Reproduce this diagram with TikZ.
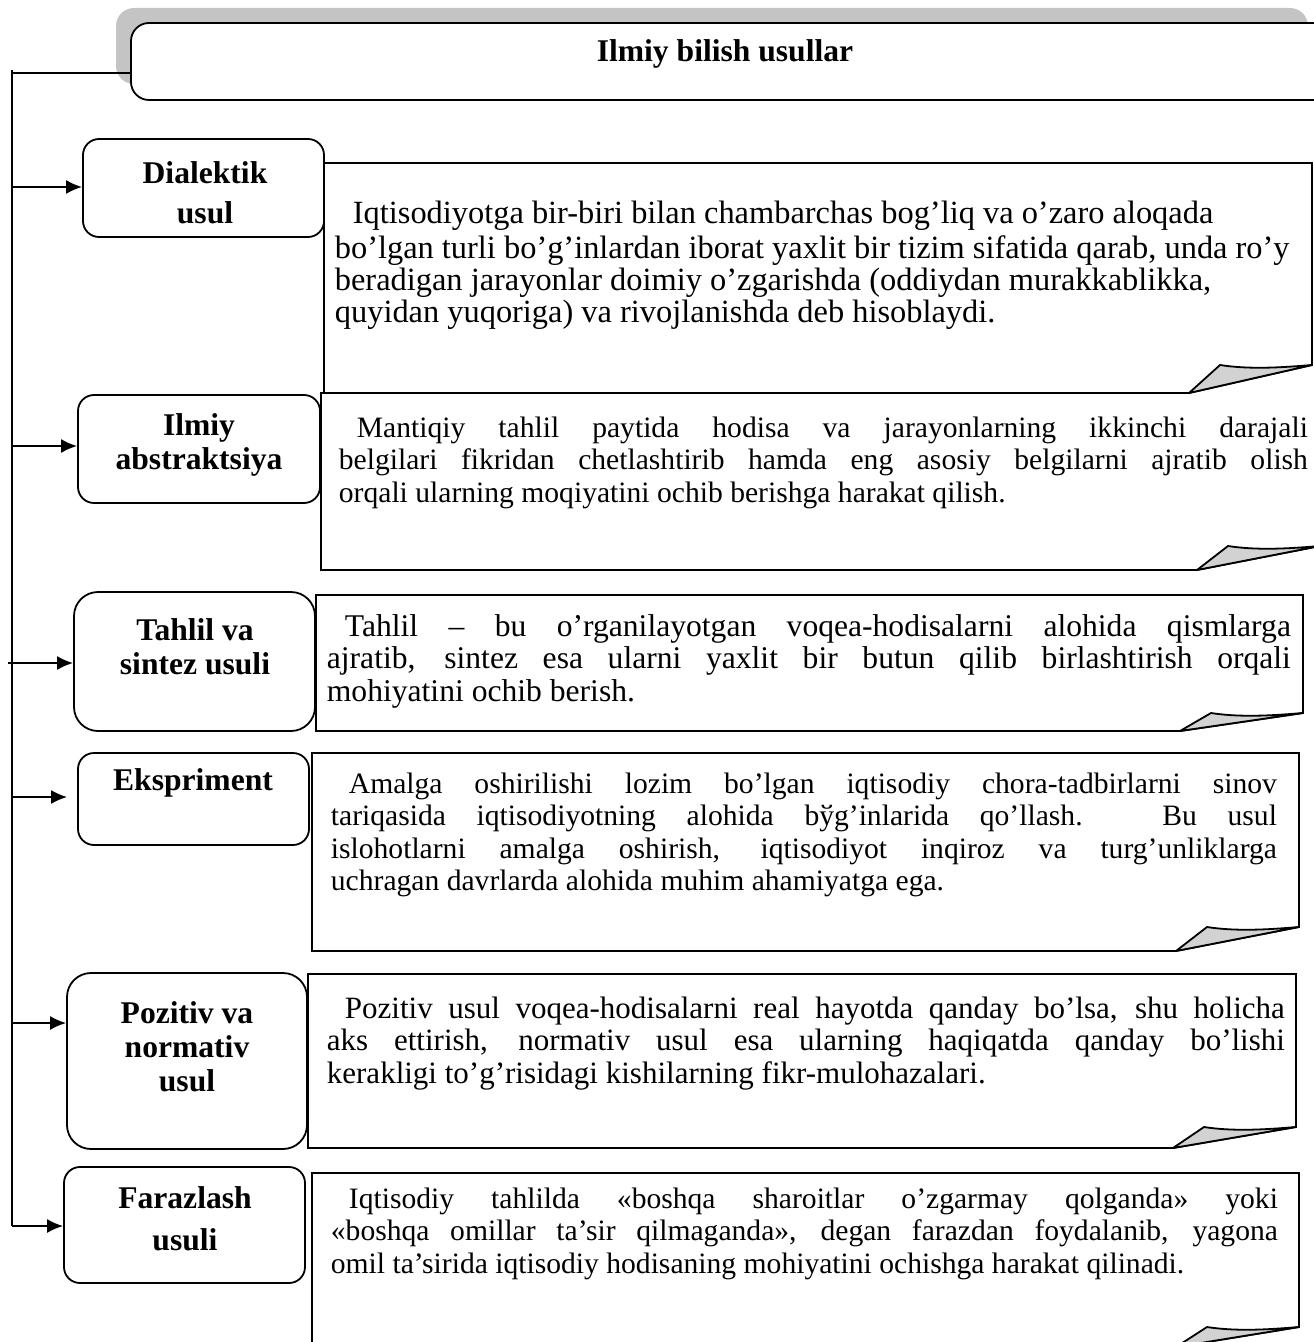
\documentclass[tikz,border=0pt]{standalone}
\usepackage{fontspec}
\setmainfont{Liberation Serif}
\usetikzlibrary{arrows.meta,calc}
\definecolor{shadowgray}{HTML}{C4C4C4}
\definecolor{flapgray}{HTML}{D2D2D2}
\newcommand\labfont{\fontsize{15.8}{17}\selectfont\bfseries}
\newcommand\jrow[1]{\hbox to\hsize{#1}}
\newcommand\lrow[1]{\hbox{#1}}
\newcommand\ind{\hskip 9pt}
% width, font size, content
\newcommand\bodyblock[3]{\vbox{\hsize=#1\fontsize{#2}{16.2}\selectfont #3}}
% x1,y1,x2,y2,foldheight
\newcommand\notebox[5]{%
  \draw[frame] (#1,#2) -- (#3,#2) -- (#3,#4-#5) -- (#3-123,#4) -- (#1,#4) -- cycle;
  \draw[flap] (#3-123,#4) -- (#3-92,#4-#5) .. controls (#3-60,#4-#5+5) and (#3-25,#4-#5+2) .. (#3,#4-#5) -- cycle;
}
\begin{document}
\begin{tikzpicture}[x=0.5pt,y=-0.5pt, line width=0.9pt,
  lbox/.style={draw, fill=white, rounded corners=8pt, inner sep=0pt},
  labtext/.style={font=\labfont, align=center, inner sep=0pt},
  bodytext/.style={anchor=north west, inner sep=0pt},
  frame/.style={draw, fill=white, line join=miter},
  flap/.style={draw, fill=flapgray, line join=round},
  arr/.style={-{Latex[length=8pt,width=7pt]}}]
\useasboundingbox (0,0) rectangle (1313,1342);

% ---- top box ----
\fill[shadowgray, rounded corners=9pt] (116,8) rectangle (1308,84);
\node[draw, fill=white, rounded corners=9pt, inner sep=0pt,
      minimum width=604.5pt, minimum height=38.5pt] (top) at (735.5,61.5) {};
\node[labtext] (title) at (725,54) {Ilmiy bilish usullar};

% ---- trunk ----
\coordinate (trunktop) at (12,70);
\coordinate (tt) at (12,73);
\coordinate (t1) at (12,187);
\coordinate (t2) at (12,446);
\coordinate (t3) at (8,663);
\coordinate (t4) at (12,797);
\coordinate (t5) at (12,1023);
\coordinate (t6) at (12,1226);
\draw (trunktop) -- (t6);
\draw (tt) -- (tt -| top.west);

% ---- right note boxes ----
\draw[fill=white] (1189,393) -- (321,393) -- (321,570) -- (1197,570) -- (1320,546) -- (1320,393);
\draw[flap] (1197,570) -- (1228,546) .. controls (1260,551) and (1295,548) .. (1320,546) -- cycle;
\notebox{324}{163}{1312}{393}{28}
\notebox{316}{595}{1303}{731}{18}
\notebox{312}{753}{1299}{951}{24}
\notebox{308}{974}{1296}{1148}{21}
\notebox{312}{1173}{1299}{1347}{20}

\node[bodytext] (r1t) at (334,200) {\bodyblock{480pt}{16.2}{%
\lrow{\strut\ind Iqtisodiyotga bir-biri bilan chambarchas bog’liq va o’zaro aloqada}
\lrow{bo’lgan turli bo’g’inlardan iborat yaxlit bir tizim sifatida qarab, unda ro’y}
\lrow{beradigan jarayonlar doimiy o’zgarishda (oddiydan murakkablikka,}
\lrow{quyidan yuqoriga) va rivojlanishda deb hisoblaydi.}}};

\node[bodytext] (r2t) at (338,414) {\bodyblock{484.5pt}{14.8}{%
\jrow{\strut\ind Mantiqiy tahlil paytida hodisa va jarayonlarning ikkinchi darajali}
\jrow{belgilari fikridan chetlashtirib hamda eng asosiy belgilarni ajratib olish}
\lrow{orqali ularning moqiyatini ochib berishga harakat qilish.}}};

\node[bodytext] (r3t) at (326,613) {\bodyblock{482pt}{15.8}{%
\jrow{\strut\ind Tahlil – bu o’rganilayotgan voqea-hodisalarni alohida qismlarga}
\jrow{ajratib, sintez esa ularni yaxlit bir butun qilib birlashtirish orqali}
\lrow{mohiyatini ochib berish.}}};

\node[bodytext] (r4t) at (330,770) {\bodyblock{473pt}{14.8}{%
\jrow{\strut\ind Amalga oshirilishi lozim bo’lgan iqtisodiy chora-tadbirlarni sinov}
\jrow{tariqasida iqtisodiyotning alohida bўg’inlarida qo’llash. Bu usul}
\jrow{islohotlarni amalga oshirish, iqtisodiyot inqiroz va turg’unliklarga}
\lrow{uchragan davrlarda alohida muhim ahamiyatga ega.}}};

\node[bodytext] (r5t) at (326,995) {\bodyblock{479pt}{15.5}{%
\jrow{\strut\ind Pozitiv usul voqea-hodisalarni real hayotda qanday bo’lsa, shu holicha}
\jrow{aks ettirish, normativ usul esa ularning haqiqatda qanday bo’lishi}
\lrow{kerakligi to’g’risidagi kishilarning fikr-mulohazalari.}}};

\node[bodytext] (r6t) at (330,1185) {\bodyblock{473.5pt}{14.8}{%
\jrow{\strut\ind Iqtisodiy tahlilda «boshqa sharoitlar o’zgarmay qolganda» yoki}
\jrow{«boshqa omillar ta’sir qilmaganda», degan farazdan foydalanib, yagona}
\lrow{omil ta’sirida iqtisodiy hodisaning mohiyatini ochishga harakat qilinadi.}}};

% ---- left boxes ----
\node[lbox, minimum width=120.5pt, minimum height=49pt] (L1) at (203.5,188) {};
\node[lbox, minimum width=121pt, minimum height=54pt] (L2) at (199,449) {};
\node[lbox, rounded corners=12pt, minimum width=120.5pt, minimum height=69.5pt] (L3) at (194.5,661.5) {};
\node[lbox, minimum width=115.5pt, minimum height=46pt] (L4) at (193.5,799) {};
\node[lbox, rounded corners=12pt, minimum width=120pt, minimum height=88pt] (L5) at (187,1061) {};
\node[lbox, minimum width=120.5pt, minimum height=58pt] (L6) at (184.5,1225) {};

\node[labtext] (L1t) at (205,193) {Dialektik\\[3pt]usul};
\node[labtext] (L2t) at (199,445) {Ilmiy\\abstraktsiya};
\node[labtext] (L3t) at (195,647) {Tahlil va\\sintez usuli};
\node[labtext] (L4t) at (193,783) {Ekspriment};
\node[labtext] (L5t) at (187,1047) {Pozitiv va\\normativ\\usul};
\node[labtext] (L6t) at (185,1219) {Farazlash\\[4pt]usuli};

% ---- arrows ----
\draw[arr] (t1) -- (t1 -| L1.west);
\draw[arr] (t2) -- (t2 -| L2.west);
\draw[arr] (t3) -- (t3 -| L3.west);
\draw[arr, shorten >=5pt] (t4) -- (t4 -| L4.west);
\draw[arr] (t5) -- (t5 -| L5.west);
\draw[arr] (t6) -- (t6 -| L6.west);
\end{tikzpicture}
\end{document}
